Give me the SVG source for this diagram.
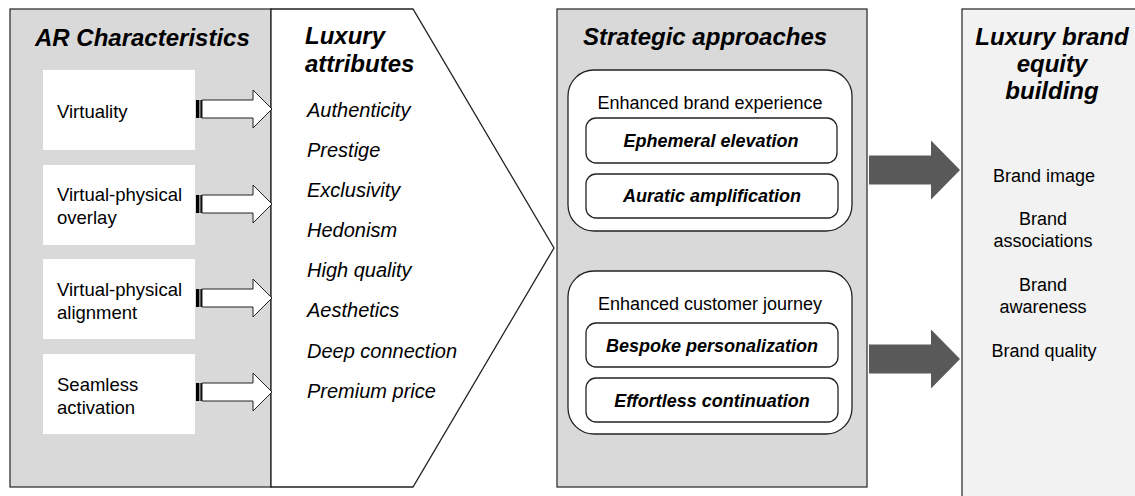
<svg xmlns="http://www.w3.org/2000/svg" xmlns:xlink="http://www.w3.org/1999/xlink" width="1135" height="496" viewBox="0 0 1135 496">
<style>
.panel{fill:#d9d9d9;stroke:#333;stroke-width:1.3}
.title{font-family:"Liberation Sans",Arial,sans-serif;font-size:24px;font-weight:bold;font-style:italic;fill:#000}
.reg{font-family:"Liberation Sans",Arial,sans-serif;font-size:18.5px;fill:#000}
.item{font-family:"Liberation Sans",Arial,sans-serif;font-size:18px;fill:#000;text-anchor:middle}
.attr{font-family:"Liberation Sans",Arial,sans-serif;font-size:20px;font-style:italic;fill:#000}
.strat{font-family:"Liberation Sans",Arial,sans-serif;font-size:18px;font-weight:bold;font-style:italic;fill:#000;text-anchor:middle}
.box{fill:#fff;stroke:none}
.rbox{fill:#fff;stroke:#222;stroke-width:1.3}
</style>
<defs>
<g id="hollow">
<rect x="196" y="-9" width="3.2" height="18" fill="#000"/>
<rect x="199.2" y="-9" width="1.3" height="18" fill="#888"/>
<rect x="200.5" y="-9" width="1.5" height="18" fill="#000"/>
<polygon points="202,-9 253,-9 253,-19 272,0 253,19 253,9 202,9" fill="#fff" stroke="#222" stroke-width="1"/>
</g>
<path id="bigarrow" d="M869,-14.5 H931 V-29.5 L960,0 L931,29.5 V14.5 H869 Z" fill="#595959"/>
</defs>

<g id="ar-characteristics">
<rect class="panel" x="10" y="9" width="261" height="478"/>
<text class="title" x="35" y="46">AR Characteristics</text>
</g>

<g id="virtuality">
<rect class="box" x="43" y="70" width="152" height="80"/>
<text class="reg" x="57" y="118">Virtuality</text>
</g>
<g id="overlay">
<rect class="box" x="43" y="165" width="152" height="80"/>
<text class="reg" x="57" y="201">Virtual-physical</text>
<text class="reg" x="57" y="224">overlay</text>
</g>
<g id="alignment">
<rect class="box" x="43" y="259" width="152" height="80"/>
<text class="reg" x="57" y="296">Virtual-physical</text>
<text class="reg" x="57" y="319">alignment</text>
</g>
<g id="activation">
<rect class="box" x="43" y="354" width="152" height="80"/>
<text class="reg" x="57" y="391">Seamless</text>
<text class="reg" x="57" y="414">activation</text>
</g>

<g id="luxury-attributes">
<polygon points="271,9 413,9 554,248 413,487 271,487" fill="#fff" stroke="#222" stroke-width="1.3"/>
<text class="title" x="305" y="44">Luxury</text>
<text class="title" x="305" y="72">attributes</text>
<text class="attr" x="307" y="117">Authenticity</text>
<text class="attr" x="307" y="157">Prestige</text>
<text class="attr" x="307" y="197">Exclusivity</text>
<text class="attr" x="307" y="237">Hedonism</text>
<text class="attr" x="307" y="277">High quality</text>
<text class="attr" x="307" y="317">Aesthetics</text>
<text class="attr" x="307" y="358">Deep connection</text>
<text class="attr" x="307" y="398">Premium price</text>
</g>

<g id="strategic-approaches">
<rect class="panel" x="557" y="9" width="310" height="478"/>
<text class="title" x="583" y="45">Strategic approaches</text>
</g>
<g id="brand-experience">
<rect class="rbox" x="568" y="70" width="284" height="161" rx="26"/>
<text class="item" x="710" y="109">Enhanced brand experience</text>
<rect class="rbox" x="586" y="118" width="251" height="45" rx="10"/>
<text class="strat" x="711" y="147">Ephemeral elevation</text>
<rect class="rbox" x="586" y="174" width="252" height="44" rx="10"/>
<text class="strat" x="712" y="202">Auratic amplification</text>
</g>
<g id="customer-journey">
<rect class="rbox" x="568" y="271" width="284" height="163" rx="26"/>
<text class="item" x="710" y="310">Enhanced customer journey</text>
<rect class="rbox" x="586" y="323" width="252" height="44" rx="10"/>
<text class="strat" x="712" y="352">Bespoke personalization</text>
<rect class="rbox" x="586" y="378" width="252" height="44" rx="10"/>
<text class="strat" x="712" y="407">Effortless continuation</text>
</g>

<g id="brand-equity">
<rect x="962" y="9" width="200" height="500" fill="#f2f2f2" stroke="#333" stroke-width="1.3"/>
<text class="title" x="1052" y="45" text-anchor="middle">Luxury brand</text>
<text class="title" x="1052" y="72" text-anchor="middle">equity</text>
<text class="title" x="1052" y="99" text-anchor="middle">building</text>
<text class="item" x="1044" y="182">Brand image</text>
<text class="item" x="1043" y="225">Brand</text>
<text class="item" x="1043" y="247">associations</text>
<text class="item" x="1043" y="291">Brand</text>
<text class="item" x="1043" y="313">awareness</text>
<text class="item" x="1044" y="357">Brand quality</text>
</g>

<g id="connectors">
<use xlink:href="#hollow" transform="translate(0,109)"/>
<use xlink:href="#hollow" transform="translate(0,204)"/>
<use xlink:href="#hollow" transform="translate(0,298)"/>
<use xlink:href="#hollow" transform="translate(0,392)"/>
<use xlink:href="#bigarrow" transform="translate(0,170)"/>
<use xlink:href="#bigarrow" transform="translate(0,359)"/>
</g>
</svg>
